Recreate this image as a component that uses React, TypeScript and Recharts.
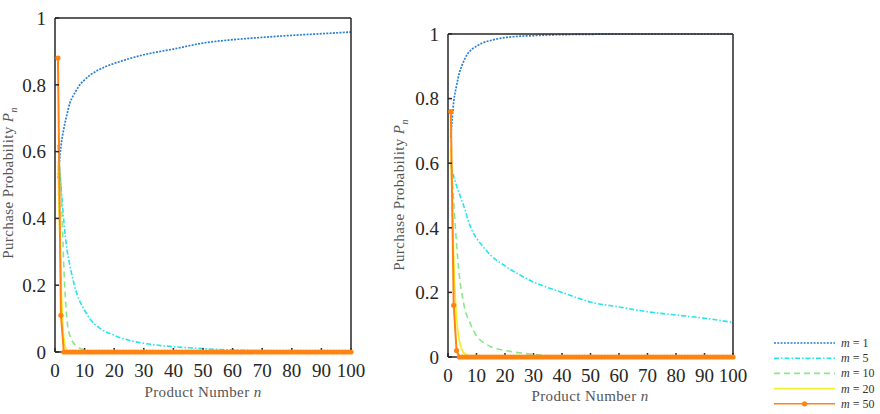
import React from 'react'
import { LineChart, Line, XAxis, YAxis } from 'recharts'

// product numbers used for the smooth curves
const sparseN = [1, 2, 3, 4, 5, 6, 7, 8, 10, 12, 15, 20, 25, 30, 35, 40, 50, 60, 70, 80, 90, 100]
// every product number (the m = 50 series has a marker at each one)
const allN = Array.from({ length: 100 }, (_, i) => i + 1)

// left panel
const leftM1 = [0.52, 0.615, 0.67, 0.71, 0.745, 0.765, 0.78, 0.795, 0.815, 0.83, 0.846, 0.864, 0.878, 0.89, 0.899, 0.907, 0.925, 0.935, 0.942, 0.948, 0.953, 0.958]
const leftM5 = [0.62, 0.5, 0.39, 0.31, 0.26, 0.22, 0.185, 0.16, 0.125, 0.097, 0.072, 0.05, 0.035, 0.026, 0.02, 0.016, 0.01, 0.006, 0.004, 0.002, 0.001, 0]
const leftM10 = [0.57, 0.5, 0.25, 0.1, 0.05, 0.03, 0.02, 0.013, 0.005, 0, 0, 0, 0, 0, 0, 0, 0, 0, 0, 0, 0, 0]
const leftM20 = [0.56, 0.22, 0.04, 0.005, 0, 0, 0, 0, 0, 0, 0, 0, 0, 0, 0, 0, 0, 0, 0, 0, 0, 0]
const leftM50 = [
  0.88, 0.11, 0, 0, 0, 0, 0, 0, 0, 0, 0, 0, 0, 0, 0, 0, 0, 0, 0, 0,
  0, 0, 0, 0, 0, 0, 0, 0, 0, 0, 0, 0, 0, 0, 0, 0, 0, 0, 0, 0,
  0, 0, 0, 0, 0, 0, 0, 0, 0, 0, 0, 0, 0, 0, 0, 0, 0, 0, 0, 0,
  0, 0, 0, 0, 0, 0, 0, 0, 0, 0, 0, 0, 0, 0, 0, 0, 0, 0, 0, 0,
  0, 0, 0, 0, 0, 0, 0, 0, 0, 0, 0, 0, 0, 0, 0, 0, 0, 0, 0, 0,
]

// right panel
const rightM1 = [0.68, 0.79, 0.84, 0.88, 0.905, 0.925, 0.94, 0.95, 0.962, 0.972, 0.98, 0.989, 0.993, 0.995, 0.997, 0.998, 0.999, 1, 1, 1, 1, 1]
const rightM5 = [0.6, 0.56, 0.53, 0.505, 0.48, 0.455, 0.425, 0.4, 0.368, 0.345, 0.315, 0.282, 0.255, 0.232, 0.215, 0.2, 0.17, 0.155, 0.14, 0.13, 0.12, 0.107]
const rightM10 = [0.6, 0.48, 0.35, 0.25, 0.19, 0.145, 0.12, 0.1, 0.065, 0.048, 0.032, 0.02, 0.013, 0.008, 0.004, 0.001, 0, 0, 0, 0, 0, 0]
const rightM20 = [0.65, 0.3, 0.12, 0.05, 0.02, 0.01, 0.004, 0, 0, 0, 0, 0, 0, 0, 0, 0, 0, 0, 0, 0, 0, 0]
const rightM50 = [
  0.76, 0.16, 0.02, 0, 0, 0, 0, 0, 0, 0, 0, 0, 0, 0, 0, 0, 0, 0, 0, 0,
  0, 0, 0, 0, 0, 0, 0, 0, 0, 0, 0, 0, 0, 0, 0, 0, 0, 0, 0, 0,
  0, 0, 0, 0, 0, 0, 0, 0, 0, 0, 0, 0, 0, 0, 0, 0, 0, 0, 0, 0,
  0, 0, 0, 0, 0, 0, 0, 0, 0, 0, 0, 0, 0, 0, 0, 0, 0, 0, 0, 0,
  0, 0, 0, 0, 0, 0, 0, 0, 0, 0, 0, 0, 0, 0, 0, 0, 0, 0, 0, 0,
]

const xTicks = [0, 10, 20, 30, 40, 50, 60, 70, 80, 90, 100]
const yTicks = [0, 0.2, 0.4, 0.6, 0.8, 1]
const legendLabels = ['1', '5', '10', '20', '50']

const C = {
  m1: '#2a7ed6',
  m5: '#26e3f0',
  m10: '#8ae88a',
  m20: '#f2ee30',
  m50: '#ff8412',
  axis: '#262626',
}
const SERIF = '"Times New Roman", "Liberation Serif", serif'

const tickStyle = { fontFamily: SERIF, fontSize: 19, fill: C.axis }

function Panel({ width, margin, m1, m5, m10, m20, m50 }: any) {
  const rows = sparseN.map((n, i) => ({ n, m1: m1[i], m5: m5[i], m10: m10[i], m20: m20[i] }))
  const dense = allN.map((n, i) => ({ n, m50: m50[i] }))
  return (
    <LineChart width={width} height={414} data={rows} margin={margin} style={{ fontFamily: SERIF }}>
      <XAxis
        dataKey="n"
        type="number"
        domain={[0, 100]}
        ticks={xTicks}
        height={30}
        tick={tickStyle}
        tickSize={-4}
        tickMargin={16}
        stroke={C.axis}
        strokeWidth={1.5}
        interval={0}
      />
      <XAxis
        xAxisId="top"
        dataKey="n"
        orientation="top"
        type="number"
        domain={[0, 100]}
        ticks={xTicks}
        height={1}
        tick={false}
        tickSize={-4}
        stroke={C.axis}
        strokeWidth={1.5}
        interval={0}
      />
      <YAxis
        type="number"
        domain={[0, 1]}
        ticks={yTicks}
        width={40}
        tick={tickStyle}
        tickSize={-4}
        tickMargin={13}
        stroke={C.axis}
        strokeWidth={1.5}
        interval={0}
      />
      <YAxis
        yAxisId="right"
        orientation="right"
        type="number"
        domain={[0, 1]}
        ticks={yTicks}
        width={1}
        tick={false}
        tickSize={-4}
        stroke={C.axis}
        strokeWidth={1.5}
        interval={0}
      />
      {/* invisible series that ties the top and right box axes to the data */}
      <Line xAxisId="top" yAxisId="right" dataKey="m1" stroke="none" dot={false} isAnimationActive={false} />
      <Line type="monotone" dataKey="m1" stroke={C.m1} strokeWidth={1.7} strokeDasharray="2 1.3" dot={false} isAnimationActive={false} />
      <Line type="monotone" dataKey="m5" stroke={C.m5} strokeWidth={1.6} strokeDasharray="5 2 1.5 2" dot={false} isAnimationActive={false} />
      <Line type="monotone" dataKey="m10" stroke={C.m10} strokeWidth={1.6} strokeDasharray="6 4" dot={false} isAnimationActive={false} />
      <Line type="monotone" dataKey="m20" stroke={C.m20} strokeWidth={1.8} dot={false} isAnimationActive={false} />
      <Line
        data={dense}
        dataKey="m50"
        type="linear"
        stroke={C.m50}
        strokeWidth={2}
        dot={{ r: 2.6, fill: C.m50, stroke: C.m50, strokeWidth: 0 }}
        isAnimationActive={false}
      />
    </LineChart>
  )
}

const xTitle = (
  <span>
    Product Number <i>n</i>
  </span>
)
const yTitle = (
  <span>
    Purchase Probability <i>P</i>
    <sub style={{ fontSize: 10 }}>
      <i>n</i>
    </sub>
  </span>
)

const titleStyle: React.CSSProperties = {
  position: 'absolute',
  fontFamily: SERIF,
  fontSize: 15,
  letterSpacing: 0.4,
  color: '#555',
  whiteSpace: 'nowrap',
  lineHeight: 1,
}

export default function App() {
  return (
    <div style={{ position: 'absolute', left: 0, top: 0, width: 880, height: 414, background: '#fff', overflow: 'hidden' }}>
      <div style={{ position: 'absolute', left: 0, top: 0 }}>
        <Panel width={370} margin={{ top: 17, right: 18, bottom: 32, left: 15 }} m1={leftM1} m5={leftM5} m10={leftM10} m20={leftM20} m50={leftM50} />
      </div>
      <div style={{ position: 'absolute', left: 380, top: 0 }}>
        <Panel width={380} margin={{ top: 33, right: 26, bottom: 27, left: 28 }} m1={rightM1} m5={rightM5} m10={rightM10} m20={rightM20} m50={rightM50} />
      </div>

      <div style={{ ...titleStyle, left: 203, top: 392, transform: 'translate(-50%, -50%)' }}>{xTitle}</div>
      <div style={{ ...titleStyle, left: 590, top: 396, transform: 'translate(-50%, -50%)' }}>{xTitle}</div>
      <div style={{ ...titleStyle, left: 10, top: 183, transform: 'translate(-50%, -50%) rotate(-90deg)' }}>{yTitle}</div>
      <div style={{ ...titleStyle, left: 401, top: 195, transform: 'translate(-50%, -50%) rotate(-90deg)' }}>{yTitle}</div>

      <svg style={{ position: 'absolute', left: 0, top: 0 }} width={880} height={414}>
        {legendLabels.map((m, i) => {
          const y = 343 + i * 15.2
          const key = (['m1', 'm5', 'm10', 'm20', 'm50'] as const)[i]
          const dash = ['2 1.3', '5 2 1.5 2', '6 4', undefined, undefined][i]
          return (
            <g key={m}>
              <line x1={774} x2={835} y1={y} y2={y} stroke={C[key]} strokeWidth={1.6} strokeDasharray={dash} />
              {i === 4 && <circle cx={804.5} cy={y} r={2.6} fill={C.m50} />}
              <text x={841} y={y + 4} fontFamily={SERIF} fontSize={12} fill="#333">
                <tspan fontStyle="italic">m</tspan> = {m}
              </text>
            </g>
          )
        })}
      </svg>
    </div>
  )
}
